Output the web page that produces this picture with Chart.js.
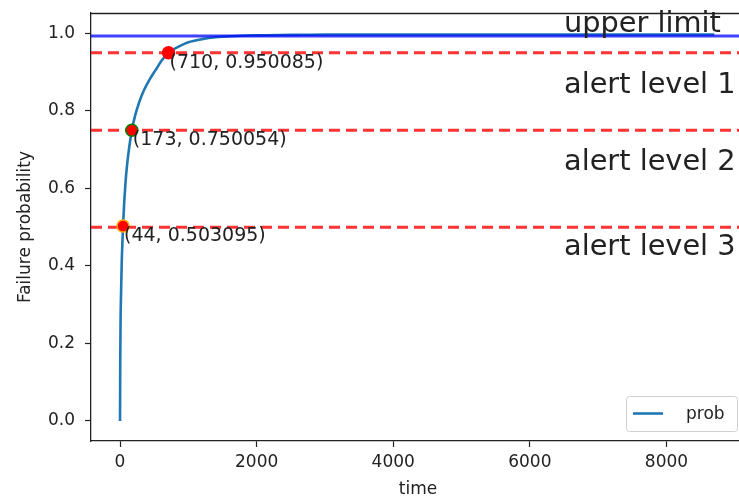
<!DOCTYPE html>
<html>
<head>
<meta charset="utf-8">
<script src="https://cdn.jsdelivr.net/npm/chart.js@4/dist/chart.umd.min.js"></script>
<style>
  html, body { margin: 0; padding: 0; background: #fff; overflow: hidden; }
  #wrap { width: 739px; height: 502px; overflow: hidden; }
</style>
</head>
<body>
<div id="wrap"><canvas id="myCanvas" width="760" height="502"></canvas></div>
<script>
// curve
const time = [0, 3, 8, 15, 25, 35, 44, 60, 80, 100, 130, 173, 220, 280, 350, 430, 520, 610, 710,
  850, 1000, 1200, 1400, 1700, 2000, 2500, 3000, 4000, 5000, 6000, 7000, 8000, 8700];
const prob = [0, 0.15, 0.26, 0.33, 0.41, 0.46, 0.503095, 0.56, 0.615, 0.655, 0.70, 0.750054, 0.787,
  0.822, 0.853, 0.88, 0.905, 0.93, 0.950085, 0.965, 0.977, 0.985, 0.99, 0.993, 0.995, 0.996,
  0.997, 0.997, 0.997, 0.997, 0.997, 0.997, 0.997];

// marked points
const markerT = [44, 173, 710];
const markerP = [0.503095, 0.750054, 0.950085];
const markerEdge = ["orange", "green", "red"];

// horizontal levels
const upperLimit = 0.993;
const alertLevels = [0.95, 0.75, 0.5];

// side labels
const sideText = ["upper limit", "alert level 1", "alert level 2", "alert level 3"];
const sideY = [1.003, 0.845, 0.648, 0.427];
const sideX = 6500;

const xTicks = [0, 2000, 4000, 6000, 8000];
const yTicks = [0, 0.2, 0.4, 0.6, 0.8, 1.0];
const xMin = -425, xMax = 9150;
const yMin = -0.0516, yMax = 1.0524;

const FONT = "DejaVu Sans";
const INK = "#222";

const hline = (y) => [{ x: xMin, y: y }, { x: xMax, y: y }];

const datasets = [
  {
    label: "prob",
    data: time.map((t, i) => ({ x: t, y: prob[i] })),
    showLine: true,
    borderColor: "#1f77b4",
    borderWidth: 2.6,
    pointRadius: 0,
    cubicInterpolationMode: "monotone",
    order: 5,
  },
  {
    label: "upper",
    data: hline(upperLimit),
    showLine: true,
    borderColor: "rgba(0,0,255,0.75)",
    borderWidth: 3,
    pointRadius: 0,
    order: 4,
  },
];
alertLevels.forEach((lv) => {
  datasets.push({
    label: "alert",
    data: hline(lv),
    showLine: true,
    borderColor: "rgba(255,0,0,0.8)",
    borderWidth: 3,
    borderDash: [11, 6],
    pointRadius: 0,
    order: 3,
  });
});
datasets.push({
  label: "marks",
  data: markerT.map((t, i) => ({ x: t, y: markerP[i] })),
  showLine: false,
  pointRadius: 6,
  pointBackgroundColor: "red",
  pointBorderColor: markerEdge,
  pointBorderWidth: 1.5,
  order: 1,
});

const extras = {
  id: "extras",
  afterDatasetsDraw(chart) {
    const { ctx, chartArea: a, scales: { x, y } } = chart;
    ctx.save();
    // top / right spines
    ctx.strokeStyle = INK;
    ctx.lineWidth = 1.3;
    ctx.beginPath();
    ctx.moveTo(a.left, a.top + 0.5);
    ctx.lineTo(a.right, a.top + 0.5);
    ctx.lineTo(a.right, a.bottom);
    ctx.stroke();

    ctx.fillStyle = INK;
    ctx.textAlign = "left";
    ctx.textBaseline = "alphabetic";
    // point annotations
    ctx.font = "19px " + FONT;
    markerT.forEach((t, i) => {
      const px = x.getPixelForValue(t), py = y.getPixelForValue(markerP[i]);
      ctx.fillText("(" + t + ", " + markerP[i] + ")", px + 1, py + 15);
    });
    // side labels
    ctx.font = "28.8px " + FONT;
    sideText.forEach((s, i) => {
      ctx.fillText(s, x.getPixelForValue(sideX), y.getPixelForValue(sideY[i]));
    });

    // legend, lower right
    const w = 111, h = 35;
    const lx = a.right - 8 - w, ly = a.bottom - 10 - h;
    ctx.fillStyle = "rgba(255,255,255,0.8)";
    ctx.strokeStyle = "#d0d0d0";
    ctx.lineWidth = 1;
    ctx.beginPath();
    ctx.roundRect(lx + 0.5, ly + 0.5, w, h, 3);
    ctx.fill();
    ctx.stroke();
    ctx.strokeStyle = "#1f77b4";
    ctx.lineWidth = 2.6;
    ctx.beginPath();
    ctx.moveTo(lx + 7, ly + h / 2);
    ctx.lineTo(lx + 37, ly + h / 2);
    ctx.stroke();
    ctx.fillStyle = INK;
    ctx.font = "17px " + FONT;
    ctx.textBaseline = "middle";
    ctx.fillText(datasets[0].label, lx + 60, ly + h / 2 + 1);
    ctx.restore();
  },
};

const axisBase = {
  type: "linear",
  grid: { drawOnChartArea: false, tickLength: 6, color: INK, tickWidth: 1.2 },
  border: { color: INK, width: 1.3 },
};

new Chart(document.getElementById("myCanvas"), {
  type: "scatter",
  data: { datasets: datasets },
  options: {
    responsive: false,
    animation: false,
    layout: { padding: { left: 0, top: 13, right: 15, bottom: 0 } },
    plugins: { legend: { display: false }, tooltip: { enabled: false } },
    scales: {
      x: {
        ...axisBase,
        min: xMin,
        max: xMax,
        afterFit: (s) => { s.height = 61; s.paddingLeft = 0; s.paddingRight = 0; },
        afterBuildTicks: (s) => { s.ticks = xTicks.map((v) => ({ value: v })); },
        ticks: {
          font: { family: FONT, size: 17 },
          color: INK,
          padding: 5,
          maxRotation: 0,
          autoSkip: false,
          callback: (v) => String(v),
        },
        title: {
          display: true,
          text: "time",
          font: { family: FONT, size: 17 },
          color: INK,
          padding: { top: 0, bottom: 2 },
        },
      },
      y: {
        ...axisBase,
        min: yMin,
        max: yMax,
        afterFit: (s) => { s.width = 91; s.paddingTop = 0; s.paddingBottom = 0; },
        afterBuildTicks: (s) => { s.ticks = yTicks.map((v) => ({ value: v })); },
        ticks: {
          font: { family: FONT, size: 17 },
          color: INK,
          padding: 10,
          autoSkip: false,
          callback: (v) => v.toFixed(1),
        },
        title: {
          display: true,
          text: "Failure probability",
          font: { family: FONT, size: 17 },
          color: INK,
          padding: { top: 15, bottom: 0 },
        },
      },
    },
  },
  plugins: [extras],
});
</script>
</body>
</html>
